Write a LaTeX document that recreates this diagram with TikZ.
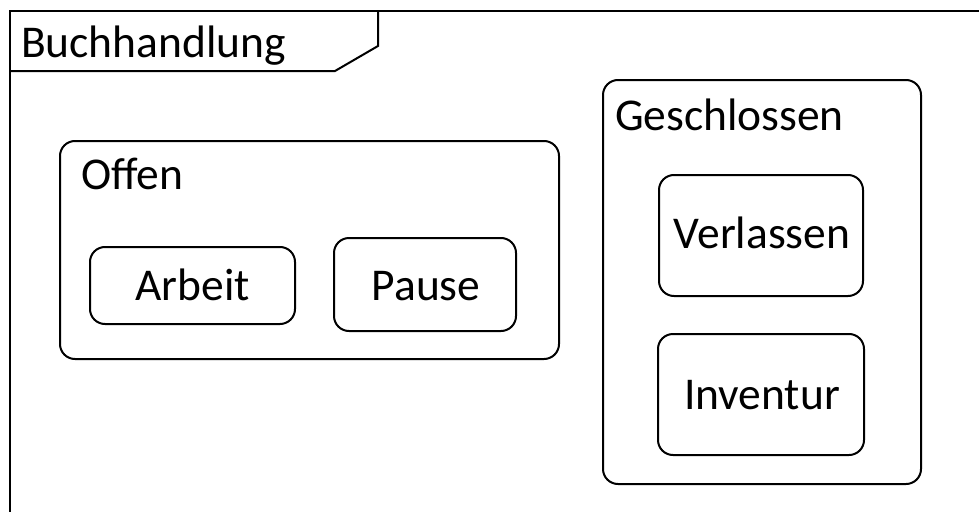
\documentclass[tikz,border=0pt]{standalone}
\usepackage{fontspec}
\setmainfont{Carlito}
\begin{document}
\begin{tikzpicture}[x=1pt,y=-1pt,line width=2pt,
  statebox/.style={draw,rounded corners=15pt,inner sep=0pt},
  lbl/.style={anchor=base west,inner sep=0pt,font=\fontsize{45.5}{54}\selectfont},
  ctext/.style={anchor=base,inner sep=0pt,font=\fontsize{45.5}{54}\selectfont}]
\useasboundingbox (0,0) rectangle (979,511);
% frame
\draw (10,515) -- (10,11) -- (985,11);
\draw (10,71) -- (335,71) -- (378,46) -- (378,11);
\node[lbl] (title) at (20,58) {Buchhandlung};
% Offen
\draw[statebox] (60,141) rectangle (559,359);
\node[lbl] (offen) at (80,189) {Offen};
\draw[statebox] (90,247) rectangle (295,324);
\node[ctext] (arbeit) at (192.5,300) {Arbeit};
\draw[statebox] (334,238) rectangle (516,331);
\node[ctext] (pause) at (426,300) {Pause};
% Geschlossen
\draw[statebox] (603,80) rectangle (921,484);
\node[lbl] (geschl) at (614,130) {Geschlossen};
\draw[statebox] (659,175) rectangle (863,296);
\node[ctext] (verl) at (762,248) {Verlassen};
\draw[statebox] (658,334) rectangle (864,455);
\node[ctext] (inv) at (762,409) {Inventur};
\end{tikzpicture}
\end{document}
